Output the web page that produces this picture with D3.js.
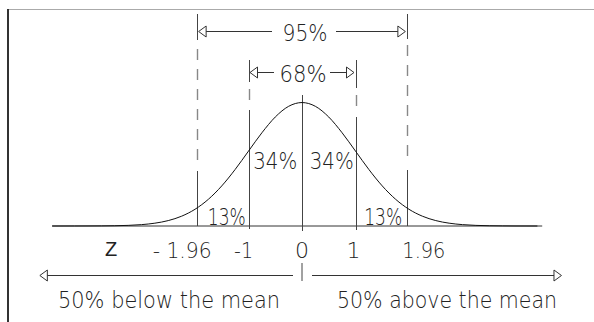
<!DOCTYPE html>
<html>
<head>
<meta charset="utf-8">
<script src="https://cdn.jsdelivr.net/npm/d3@7"></script>
<style>
  html, body { margin: 0; padding: 0; background: #fff; }
  svg { display: block; }
  text { font-family: "DejaVu Sans", sans-serif; font-weight: 200; fill: #222; }
</style>
</head>
<body>
<svg id="chart" width="594" height="322"></svg>
<script>
// ---- data ----
const curveZ = [-4.67, -4.25, -4, -3.75, -3.5, -3.25, -3, -2.75, -2.5, -2.25, -2, -1.75, -1.5, -1.25, -1, -0.75, -0.5, -0.25, 0,
                0.25, 0.5, 0.75, 1, 1.25, 1.5, 1.75, 2, 2.25, 2.5, 2.75, 3, 3.25, 3.5, 3.75, 4, 4.4];
const curveDensity = [0.000, 0.0001, 0.0002, 0.0004, 0.0009, 0.0020, 0.0044, 0.0091, 0.0175, 0.0317, 0.0540, 0.0863, 0.1295, 0.1826, 0.2420, 0.3011, 0.3521, 0.3867, 0.3989,
                      0.3867, 0.3521, 0.3011, 0.2420, 0.1826, 0.1295, 0.0863, 0.0540, 0.0317, 0.0175, 0.0091, 0.0044, 0.0020, 0.0009, 0.0004, 0.0001, 0.000];
const boundaries = [-1.96, -1, 0, 1, 1.96];
const tickLabels = ["- 1.96", "-1", "0", "1", "1.96"];
const axisName = "Z";
const areaLabels = ["13%", "34%", "34%", "13%"];
const areaMid = [-1.48, -0.5, 0.5, 1.48];
const spanLabels = ["95%", "68%"];
const spanBounds = [[-1.96, 1.96], [-1, 1]];
const halfLabels = ["50%  below the mean", "50% above the mean"];

// ---- layout ----
const svg = d3.select("#chart");
const x = d3.scaleLinear().domain([-1, 1]).range([248.5, 355.5]);
const y = d3.scaleLinear().domain([0, 0.4]).range([226, 102.2]);
const base = y(0);
const solid = "#444", dashed = "#888";

function label(xc, yb, txt, width, size) {
  const t = svg.append("text").attr("x", xc).attr("y", yb).attr("text-anchor", "middle")
    .attr("font-size", size).text(txt);
  if (width) t.attr("textLength", width).attr("lengthAdjust", "spacingAndGlyphs");
  return t;
}

// frame
svg.append("line").attr("x1", 8).attr("x2", 594).attr("y1", 9.5).attr("y2", 9.5)
  .attr("stroke", "#aaa").attr("stroke-width", 1);
svg.append("line").attr("x1", 8).attr("x2", 8).attr("y1", 9).attr("y2", 322)
  .attr("stroke", "#333").attr("stroke-width", 2);

// baseline
svg.append("line").attr("x1", x(-4.67)).attr("x2", x(4.49)).attr("y1", base).attr("y2", base)
  .attr("stroke", "#333").attr("stroke-width", 1);

// vertical boundary lines: [solid top, dashed, solid bottom] segments
const vSegs = {
  "-1.96": [[14, 40, "s"], [49, 166, "d"], [171, base, "s"]],
  "-1":    [[60, 82, "s"], [89, 106, "d"], [110, base + 3, "s"]],
  "0":     [[95, base + 5, "s"]],
  "1":     [[60, 88, "s"], [95, 114, "d"], [117, base + 4, "s"]],
  "1.96":  [[14, 39, "s"], [45, 160, "d"], [170, base, "s"]]
};
boundaries.forEach(b => {
  const xx = Math.round(x(b)) + 0.5;
  vSegs[String(b)].forEach(([a, c, t]) => {
    svg.append("line").attr("x1", xx).attr("x2", xx).attr("y1", a).attr("y2", c)
      .attr("stroke", t === "s" ? solid : dashed)
      .attr("stroke-width", t === "s" ? 1 : 1.4)
      .attr("stroke-dasharray", t === "s" ? null : "11,9");
  });
});

// curve
const pts = curveZ.map((z, i) => [z, curveDensity[i]]);
svg.append("path").datum(pts)
  .attr("d", d3.line().x(d => x(d[0])).y(d => y(d[1])).curve(d3.curveMonotoneX))
  .attr("fill", "none").attr("stroke", "#111").attr("stroke-width", 1);

// arrow helpers (open triangle heads)
function arrowHead(xTip, yy, dir) {
  const len = 7.5, h = 5.5;
  const xb = xTip - dir * len;
  svg.append("path")
    .attr("d", `M${xTip},${yy} L${xb},${yy - h} L${xb},${yy + h} Z`)
    .attr("fill", "#fff").attr("stroke", "#333").attr("stroke-width", 1);
}
function hLine(x1, x2, yy) {
  svg.append("line").attr("x1", x1).attr("x2", x2).attr("y1", yy).attr("y2", yy)
    .attr("stroke", "#333").attr("stroke-width", 1);
}

// span arrows (95%, 68%)
const spanY = [31.5, 72.5];
const spanGap = [[272, 336], [274, 330]];
const spanTextW = [45, 47];
spanLabels.forEach((lab, i) => {
  const [a, b] = spanBounds[i];
  const xl = x(a) + 1.5, xr = x(b) - 1.5;
  const yy = spanY[i];
  hLine(xl + 7, spanGap[i][0], yy);
  hLine(spanGap[i][1], xr - 7, yy);
  arrowHead(xl, yy, -1);
  arrowHead(xr, yy, 1);
  label((spanGap[i][0] + spanGap[i][1]) / 2 + 1, yy + 9, lab, spanTextW[i], 23);
});

// area labels
const areaY = [225, 169, 169, 225];
const areaDx = [4, 0, 3, 2];
const areaW = [38, 44, 44, 38];
areaLabels.forEach((lab, i) => {
  label(x(areaMid[i]) + areaDx[i], areaY[i], lab, areaW[i], 23);
});

// axis name and tick labels
svg.append("text").attr("x", 111).attr("y", 256).attr("text-anchor", "middle")
  .style("font-family", "'Liberation Sans', Arial, sans-serif").style("font-weight", 400)
  .attr("font-size", 20).text(axisName);
const tickOffset = [-15, -5, 0, -2, 17];
const tickW = [59, 19, null, null, 43];
boundaries.forEach((b, i) => {
  label(x(b) + tickOffset[i], 258, tickLabels[i], tickW[i], 22);
});

// bottom half arrows
const botY = 275.5;
hLine(x(-4.9) + 7, 293, botY);
arrowHead(x(-4.9), botY, -1);
hLine(312, x(4.85) - 7, botY);
arrowHead(x(4.85), botY, 1);
svg.append("line").attr("x1", x(0)).attr("x2", x(0)).attr("y1", 263).attr("y2", 281)
  .attr("stroke", "#444").attr("stroke-width", 1);

label(169, 308, halfLabels[0], 222, 23);
label(447, 308, halfLabels[1], 220, 23);
</script>
</body>
</html>
